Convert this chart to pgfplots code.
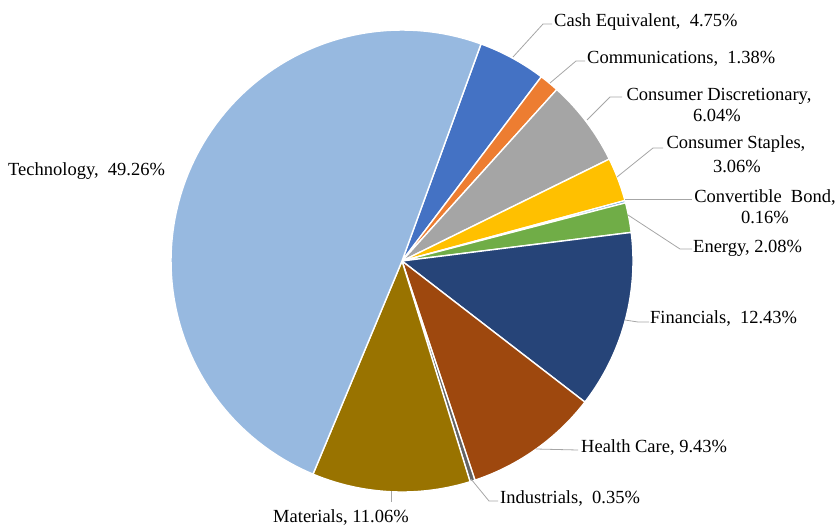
\documentclass[border=0pt]{standalone}
\usepackage{pgfplots}
\pgfplotsset{compat=1.18}
\usepackage{fontspec}
\setmainfont{Liberation Serif}
\definecolor{cashc}{HTML}{4472C4}
\definecolor{commc}{HTML}{ED7D31}
\definecolor{discc}{HTML}{A5A5A5}
\definecolor{stapc}{HTML}{FFC000}
\definecolor{convc}{HTML}{5B9BD5}
\definecolor{enerc}{HTML}{70AD47}
\definecolor{finc}{HTML}{264478}
\definecolor{healc}{HTML}{9E480E}
\definecolor{indc}{HTML}{636363}
\definecolor{matc}{HTML}{997300}
\definecolor{techc}{RGB}{151,185,224}
\definecolor{leadc}{HTML}{A6A6A6}
\newcommand{\lab}{\fontsize{18.5}{22}\selectfont}
\begin{document}
\begin{tikzpicture}
\begin{axis}[hide axis, scale only axis, width=837pt, height=525pt,
  xmin=0, xmax=837, ymin=0, ymax=525, y dir=reverse, clip=false]
\xdef\cum{0}
\foreach \v/\c in {4.75/cashc, 1.38/commc, 6.04/discc, 3.06/stapc, 0.16/convc, 2.08/enerc, 12.43/finc, 9.43/healc, 0.35/indc, 11.06/matc, 49.26/techc} {
  \pgfmathsetmacro\a{20+3.6*\cum}
  \pgfmathsetmacro\b{20+3.6*(\cum+\v)}
  \edef\temp{\noexpand\addplot[fill=\c, draw=white, line width=1.4pt, line join=round, domain=\a:\b, samples=90] ({402+231*sin(x)},{261-231*cos(x)}) -- (axis cs:402,261) -- cycle;}
  \temp
  \pgfmathsetmacro\n{\cum+\v}
  \xdef\cum{\n}
}
% leader lines
\draw[leadc, line width=0.8pt] (axis cs:513,57) -- (axis cs:543,24) -- (axis cs:552,24);
\draw[leadc, line width=0.8pt] (axis cs:550,83) -- (axis cs:576,61) -- (axis cs:585,61);
\draw[leadc, line width=0.8pt] (axis cs:587,120) -- (axis cs:610,97) -- (axis cs:622,97);
\draw[leadc, line width=0.8pt] (axis cs:617,177) -- (axis cs:653,148) -- (axis cs:663,148);
\draw[leadc, line width=0.8pt] (axis cs:625,199) -- (axis cs:692,199);
\draw[leadc, line width=0.8pt] (axis cs:628,215) -- (axis cs:680,249) -- (axis cs:692,249);
\draw[leadc, line width=0.8pt] (axis cs:625,320) -- (axis cs:638,322) -- (axis cs:649,322);
\draw[leadc, line width=0.8pt] (axis cs:536,449) -- (axis cs:578,450);
\draw[leadc, line width=0.8pt] (axis cs:471,479) -- (axis cs:489,501) -- (axis cs:498,501);
\draw[leadc, line width=0.8pt] (axis cs:391,491) -- (axis cs:391,502);
% labels
\node[anchor=base west, inner sep=0pt, font=\lab] at (axis cs:8,175) {Technology,\ \ 49.26\%};
\node[anchor=base west, inner sep=0pt, font=\lab] at (axis cs:554,26) {Cash Equivalent,\ \ 4.75\%};
\node[anchor=base west, inner sep=0pt, font=\lab] at (axis cs:587,63) {Communications,\ \ 1.38\%};
\node[anchor=base, inner sep=0pt, font=\lab] at (axis cs:719,100) {Consumer Discretionary,};
\node[anchor=base, inner sep=0pt, font=\lab] at (axis cs:717,121) {6.04\%};
\node[anchor=base, inner sep=0pt, font=\lab] at (axis cs:736,148) {Consumer Staples,};
\node[anchor=base, inner sep=0pt, font=\lab] at (axis cs:737,172) {3.06\%};
\node[anchor=base, inner sep=0pt, font=\lab] at (axis cs:765,202) {Convertible\ \ Bond,};
\node[anchor=base, inner sep=0pt, font=\lab] at (axis cs:765,223) {0.16\%};
\node[anchor=base west, inner sep=0pt, font=\lab] at (axis cs:693,252) {Energy, 2.08\%};
\node[anchor=base west, inner sep=0pt, font=\lab] at (axis cs:650,323) {Financials,\ \ 12.43\%};
\node[anchor=base west, inner sep=0pt, font=\lab] at (axis cs:581,452) {Health Care, 9.43\%};
\node[anchor=base west, inner sep=0pt, font=\lab] at (axis cs:500,503) {Industrials,\ \ 0.35\%};
\node[anchor=base west, inner sep=0pt, font=\lab] at (axis cs:273,522) {Materials, 11.06\%};
\end{axis}
\pgfresetboundingbox
\path (current axis.south west) rectangle (current axis.north east);
\end{tikzpicture}
\end{document}
